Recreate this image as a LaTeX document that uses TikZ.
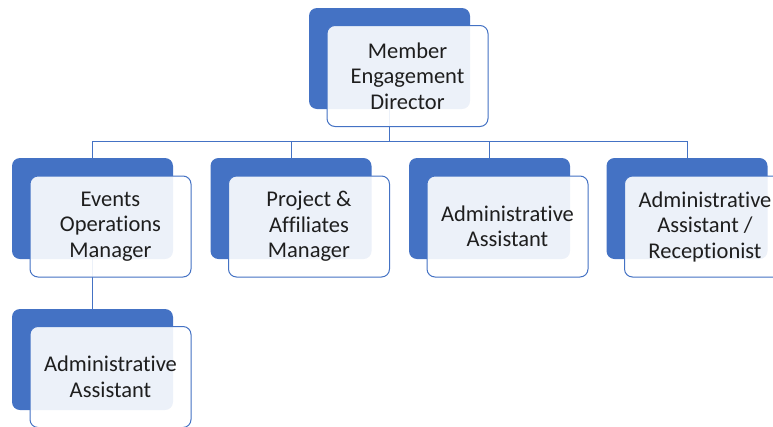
\documentclass[tikz,border=0pt]{standalone}
\usepackage{fontspec}
\setmainfont[Ligatures=NoCommon]{Carlito}
\definecolor{blueMain}{RGB}{68,114,196}
\definecolor{textgray}{RGB}{30,30,30}
\begin{document}
\begin{tikzpicture}[x=1pt,y=-1pt,
  backbox/.style={fill=blueMain, rounded corners=8pt, minimum width=161pt, minimum height=101pt, inner sep=0pt},
  frontbox/.style={draw=blueMain, line width=1pt, fill=white, fill opacity=0.9, text opacity=1,
    rounded corners=8pt, minimum width=161pt, minimum height=101pt, inner sep=0pt,
    text=textgray, font=\fontsize{22.5}{25.5}\selectfont, align=center},
  link/.style={draw=blueMain, line width=1pt}]
\useasboundingbox (0,0) rectangle (773,426);
\coordinate (bus) at (0,141);

% back plates
\node[backbox] (dirB) at (389.5,58.5) {};
\node[backbox] (evB)  at (92.5,208.5) {};
\node[backbox] (prB)  at (291,208.5) {};
\node[backbox] (adB)  at (489.5,208.5) {};
\node[backbox] (recB) at (687,208.5) {};
\node[backbox] (asB)  at (92.5,359.5) {};

% connectors
\draw[link] (dirB.south) -- (dirB.south |- bus) -| (evB.north);
\draw[link] (dirB.south) -- (dirB.south |- bus) -| (prB.north);
\draw[link] (dirB.south) -- (dirB.south |- bus) -| (adB.north);
\draw[link] (dirB.south) -- (dirB.south |- bus) -| (recB.north);
\draw[link] (evB.south) -- (asB.north);

% front cards
\node[frontbox] (dirF) at (407.5,76) {Member\\Engagement\\Director};
\node[frontbox] (evF)  at (110.5,226.5) {Events\\Operations\\Manager};
\node[frontbox] (prF)  at (309,226.5) {Project \&\\Affiliates\\Manager};
\node[frontbox] (adF)  at (507.5,226.5) {Administrative\\Assistant};
\node[frontbox] (recF) at (705,226.5) {Administrative\\Assistant /\\Receptionist};
\node[frontbox] (asF)  at (110.5,377) {Administrative\\Assistant};
\end{tikzpicture}
\end{document}
